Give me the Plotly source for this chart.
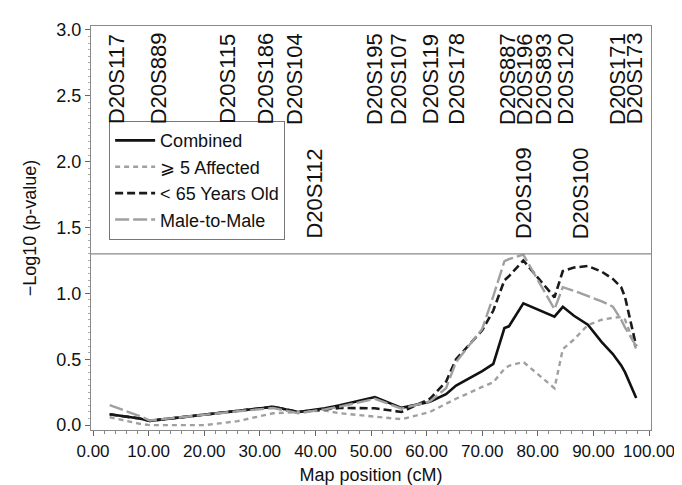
import plotly.graph_objects as go

# ---- data ----
positions_cM = [3.0, 8.4, 10.2, 20.1, 26.0, 32.4, 36.9, 41.7, 44.4, 50.7, 55.5, 60.6,
                63.5, 65.3, 70.0, 72.0, 74.0, 74.8, 77.4, 83.0, 84.5, 86.5, 89.0,
                91.5, 93.5, 95.0, 95.7, 97.7]
combined = [0.082, 0.050, 0.032, 0.082, 0.110, 0.139, 0.100, 0.128, 0.150, 0.213, 0.131, 0.178,
            0.235, 0.300, 0.410, 0.465, 0.737, 0.750, 0.925, 0.824, 0.898, 0.830, 0.763,
            0.630, 0.540, 0.453, 0.400, 0.206]
affected5 = [0.060, 0.010, 0.000, 0.000, 0.030, 0.090, 0.100, 0.110, 0.090, 0.065, 0.045, 0.100,
             0.160, 0.200, 0.290, 0.325, 0.428, 0.450, 0.480, 0.280, 0.577, 0.650, 0.760,
             0.800, 0.815, 0.820, 0.800, 0.577]
under65 = [0.082, 0.050, 0.032, 0.082, 0.110, 0.139, 0.100, 0.120, 0.130, 0.128, 0.100, 0.200,
           0.330, 0.500, 0.720, 0.870, 1.100, 1.130, 1.250, 0.970, 1.170, 1.196, 1.208,
           1.165, 1.110, 1.047, 0.970, 0.600]
male2male = [0.151, 0.069, 0.035, 0.080, 0.105, 0.130, 0.090, 0.120, 0.140, 0.200, 0.125, 0.180,
             0.280, 0.480, 0.730, 0.980, 1.245, 1.260, 1.294, 0.880, 1.047, 1.020, 0.980,
             0.940, 0.900, 0.800, 0.740, 0.600]

marker_names = ["D20S117", "D20S889", "D20S115", "D20S186", "D20S104", "D20S112",
                "D20S195", "D20S107", "D20S119", "D20S178", "D20S887", "D20S196",
                "D20S109", "D20S893", "D20S120", "D20S100", "D20S171", "D20S173"]
marker_cM = [4.2, 11.8, 24.3, 31.1, 36.2, 39.8, 50.6, 54.9, 60.7, 65.5, 74.5, 77.6,
             77.3, 81.0, 85.1, 87.6, 94.3, 97.4]
lower_row_markers = {"D20S112", "D20S109", "D20S100"}

threshold = 1.3
x_ticks = [0, 10, 20, 30, 40, 50, 60, 70, 80, 90, 100]
y_ticks = [0.0, 0.5, 1.0, 1.5, 2.0, 2.5, 3.0]

FONT = "Liberation Sans, Arial, sans-serif"

fig = go.Figure()
series = [
    ("Combined", combined, dict(color="#111111", width=2.6, dash="solid")),
    ("\u2a7e 5 Affected", affected5, dict(color="#a0a0a0", width=2.4, dash="5px,4px")),
    ("< 65 Years Old", under65, dict(color="#1a1a1a", width=2.6, dash="8px,4px")),
    ("Male-to-Male", male2male, dict(color="#a0a0a0", width=2.4, dash="14px,4px")),
]
for name, vals, line in series:
    fig.add_trace(go.Scatter(x=positions_cM, y=vals, mode="lines", name=name, line=line))

fig.add_hline(y=threshold, line=dict(color="#8a8a8a", width=1.2))

for nm, cm in zip(marker_names, marker_cM):
    yc = 1.76 if nm in lower_row_markers else 2.63
    fig.add_annotation(x=cm, y=yc, xref="x", yref="y", text=nm, textangle=-90,
                       showarrow=False, xanchor="center", yanchor="middle",
                       font=dict(family=FONT, size=22, color="#111111"))

fig.update_layout(
    width=682, height=485,
    margin=dict(l=83, r=39, t=13, b=59),
    paper_bgcolor="white", plot_bgcolor="white",
    font=dict(family=FONT, size=18, color="#111111"),
    showlegend=True,
    legend=dict(x=0.032, y=0.765, xanchor="left", yanchor="top",
                bordercolor="#777777", borderwidth=1.2, bgcolor="white",
                font=dict(family=FONT, size=18), itemwidth=40,
                tracegroupgap=0),
)
fig.update_xaxes(
    range=[-0.36, 100.36], tickvals=x_ticks, ticktext=[f"{v:.2f}" for v in x_ticks],
    showgrid=False, zeroline=False, showline=True, linecolor="#8a8a8a", linewidth=1.2,
    mirror=True, ticks="outside", ticklen=5, tickcolor="#666666",
    minor=dict(dtick=2, ticklen=3, tickcolor="#888888", ticks="outside"),
    title=dict(text="Map position (cM)", font=dict(size=18), standoff=8),
    tickfont=dict(size=17),
)
fig.update_yaxes(
    range=[-0.037, 3.03], tickvals=y_ticks, ticktext=[f"{v:.1f}" for v in y_ticks],
    showgrid=False, zeroline=False, showline=True, linecolor="#8a8a8a", linewidth=1.2,
    mirror=True, ticks="outside", ticklen=5, tickcolor="#666666",
    minor=dict(dtick=0.05, ticklen=2, tickcolor="#aaaaaa", ticks="outside"),
    title=dict(text="\u2212Log10 (p-value)", font=dict(size=18), standoff=14),
    tickfont=dict(size=18),
)

fig.write_html("out.html")
